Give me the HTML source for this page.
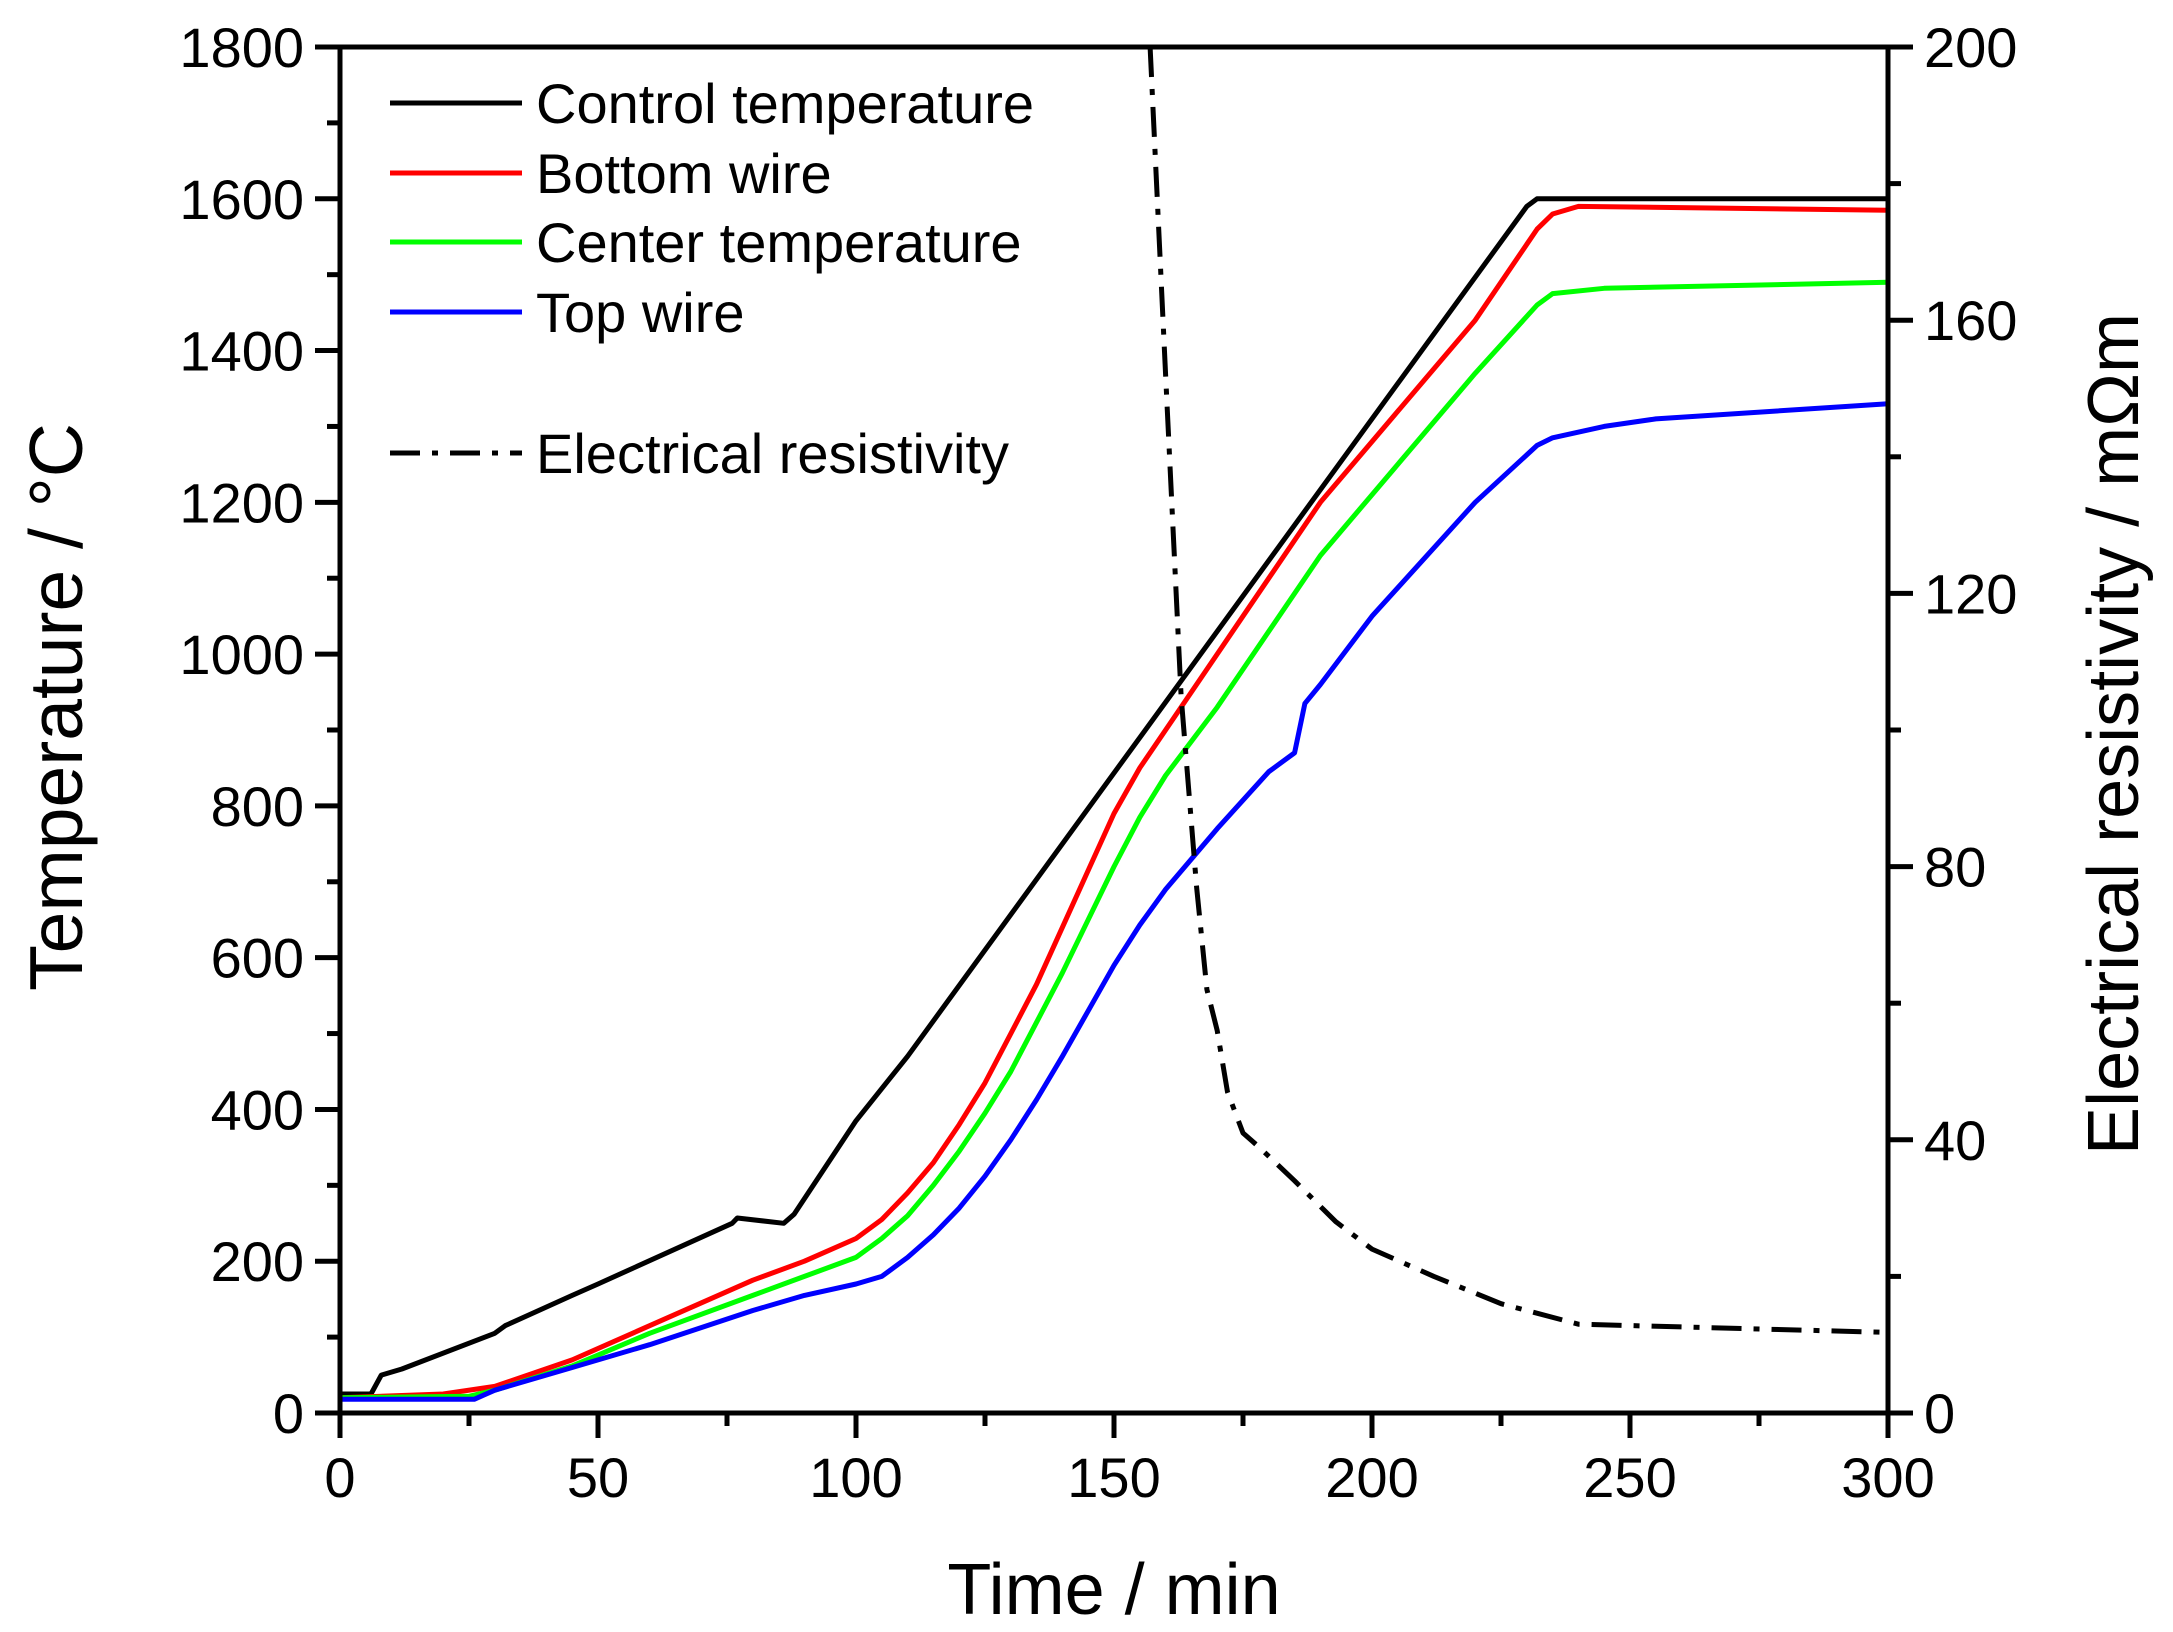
<!DOCTYPE html>
<html><head><meta charset="utf-8"><style>
html,body{margin:0;padding:0;background:#fff}
svg{display:block;font-family:"Liberation Sans",Arial,sans-serif}
</style></head><body>
<svg id="c" width="2173" height="1632" viewBox="0 0 2173 1632"></svg>
<script>
const xTicks=[0,50,100,150,200,250,300];
const yTicks=[0,200,400,600,800,1000,1200,1400,1600,1800];
const y2Ticks=[0,40,80,120,160,200];
const controlT=[[0,25],[6,25],[8,50],[12,58],[30,105],[32,115],[45,155],[50,170],[76,250],[77,257],[86,250],[88,262],[100,385],[110,470],[230,1590],[232,1600],[300,1600]];
const bottomT=[[0,20],[20,25],[30,35],[45,70],[60,115],[80,175],[90,200],[100,230],[105,255],[110,290],[115,330],[120,380],[125,435],[130,500],[135,565],[140,640],[145,715],[150,790],[155,850],[160,900],[170,1000],[180,1100],[190,1200],[200,1280],[220,1440],[232,1560],[235,1580],[240,1590],[300,1585]];
const centerT=[[0,20],[25,22],[30,30],[45,62],[60,105],[80,155],[90,180],[100,205],[105,230],[110,260],[115,300],[120,345],[125,395],[130,450],[135,515],[140,580],[145,650],[150,720],[155,785],[160,840],[170,930],[180,1030],[190,1130],[200,1210],[220,1370],[232,1460],[235,1475],[245,1482],[300,1490]];
const topT=[[0,18],[26,18],[30,30],[45,60],[60,90],[80,135],[90,155],[100,170],[105,180],[110,205],[115,235],[120,270],[125,312],[130,360],[135,413],[140,470],[145,530],[150,590],[155,643],[160,690],[170,770],[180,845],[185,870],[187,935],[190,960],[200,1050],[220,1200],[232,1275],[235,1285],[245,1300],[255,1310],[300,1330]];
const resist=[[157,200],[160,152],[163,105],[166,77],[168,62],[170,56],[172,47],[175,41],[178,39],[185,34],[193,28],[200,24],[212,20],[225,16],[240,13],[300,11.8]];

const L=340,R=1888,T=47,B=1413;
const X=t=>L+(t/300)*(R-L);
const Y=v=>B-(v/1800)*(B-T);
const Y2=v=>B-(v/200)*(B-T);
const svg=document.getElementById('c');
const NS='http://www.w3.org/2000/svg';
function mk(tag,attrs,parent){const e=document.createElementNS(NS,tag);for(const k in attrs)e.setAttribute(k,attrs[k]);(parent||svg).appendChild(e);return e;}
function txt(s,x,y,size,anchor,name,extra){const e=mk('text',Object.assign({x:x,y:y,'font-size':size,'text-anchor':anchor,fill:'#000'},extra||{}));e.textContent=s;return e;}

function series(data,fy,color,name,dash){
 const d=data.map((p,i)=>(i?'L':'M')+X(p[0]).toFixed(1)+' '+fy(p[1]).toFixed(1)).join(' ');
 const a={d:d,fill:'none',stroke:color,'stroke-width':5,'stroke-linejoin':'round'};
 if(dash)a['stroke-dasharray']=dash;
 const e=mk('path',a);
 
 
}
series(controlT,Y,'#000','control-temperature-line');
series(bottomT,Y,'#f00','bottom-wire-line');
series(centerT,Y,'#0f0','center-temperature-line');
series(topT,Y,'#00f','top-wire-line');
series(resist,Y2,'#000','electrical-resistivity-line','30,12,6,12');

const fr=mk('rect',{x:L,y:T,width:R-L,height:B-T,fill:'none',stroke:'#000','stroke-width':5});


for(let t=0;t<=300;t+=25){const maj=t%50===0;const tk=mk('line',{x1:X(t),x2:X(t),y1:B,y2:B+(maj?25:13),stroke:'#000','stroke-width':5});}
xTicks.forEach(t=>txt(String(t),X(t),B+84,56,'middle','x-tick-label'));
for(let v=0;v<=1800;v+=100){const maj=v%200===0;const tk=mk('line',{x1:L,x2:L-(maj?25:13),y1:Y(v),y2:Y(v),stroke:'#000','stroke-width':5});}
yTicks.forEach(v=>txt(String(v),L-36,Y(v)+20,56,'end','y-tick-label'));
for(let v=0;v<=200;v+=20){const maj=v%40===0;const tk=mk('line',{x1:R,x2:R+(maj?25:13),y1:Y2(v),y2:Y2(v),stroke:'#000','stroke-width':5});}
y2Ticks.forEach(v=>txt(String(v),R+36,Y2(v)+20,56,'start','y2-tick-label'));

txt('Time / min',(L+R)/2,1614,72,'middle','x-axis-title');
txt('Temperature / °C',0,0,75,'middle','y-axis-title',{transform:'translate(82,707) rotate(-90)'});
txt('Electrical resistivity / mΩm',0,0,72,'middle','y2-axis-title',{transform:'translate(2138,734) rotate(-90)'});

const leg=[['Control temperature','#000',103,null],['Bottom wire','#f00',173,null],['Center temperature','#0f0',242,null],['Top wire','#00f',312,null],['Electrical resistivity','#000',453,'30,12,6,12']];
leg.forEach(l=>{const g=mk('g',{});
 const a={x1:390,x2:522,y1:l[2],y2:l[2],stroke:l[1],'stroke-width':5};if(l[3])a['stroke-dasharray']=l[3];mk('line',a,g);
 const t=mk('text',{x:536,y:l[2]+20,'font-size':56,fill:'#000'},g);t.textContent=l[0];});
</script>
</body></html>
